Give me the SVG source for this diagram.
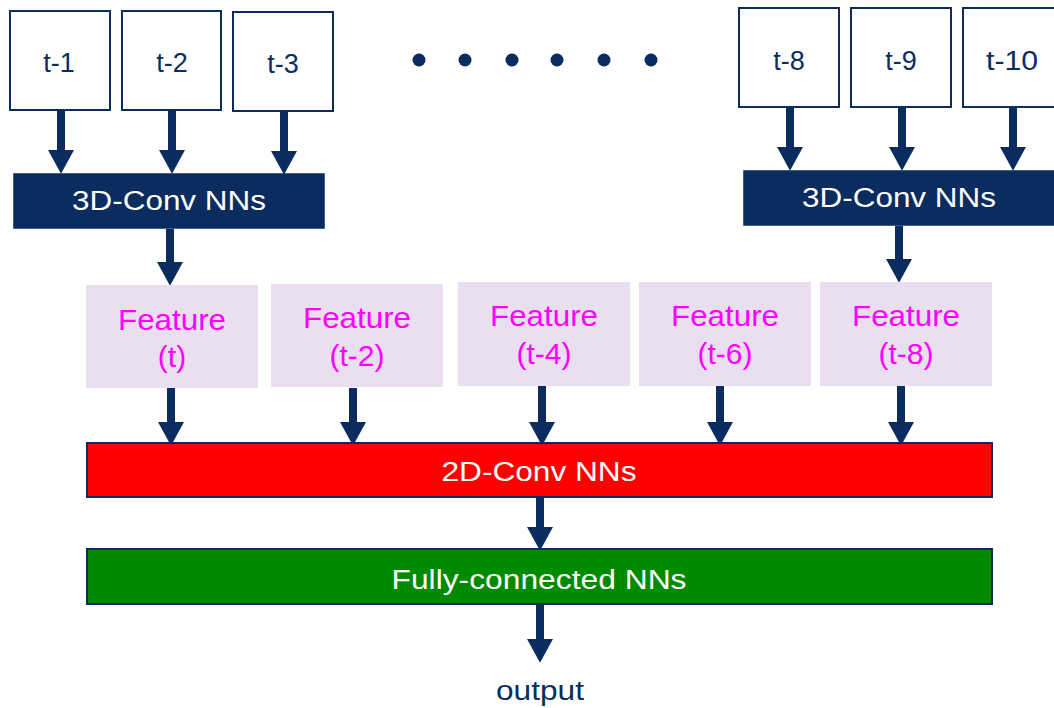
<svg xmlns="http://www.w3.org/2000/svg" width="1054" height="708" viewBox="0 0 1054 708">
<style>
.frame{fill:#ffffff;stroke:#0A2C5E;stroke-width:2}
.tl{font-family:"Liberation Sans",Arial,sans-serif;font-size:27px;fill:#0A2C5E;text-anchor:middle}
.conv3{fill:#0A2C5E;stroke:#0A2C5E;stroke-width:1.5}
.wt{font-family:"Liberation Sans",Arial,sans-serif;font-size:27px;fill:#ffffff;text-anchor:middle}
.feat{fill:#EADFF0}
.ft{font-family:"Liberation Sans",Arial,sans-serif;font-size:30px;fill:#FF00FF;text-anchor:middle}
.conv2{fill:#FF0000;stroke:#0A2C5E;stroke-width:2}
.fc{fill:#008A00;stroke:#0A2C5E;stroke-width:2}
.arr{stroke:#0A2C5E;stroke-width:8;fill:none;marker-end:url(#ah)}
.dot{fill:#0A2C5E}
</style>
<defs>
<marker id="ah" markerUnits="userSpaceOnUse" markerWidth="24" markerHeight="26" viewBox="0 -12 22 24" refX="0" refY="0" orient="auto">
<path d="M0,-12 L22,0 L0,12 z" fill="#0A2C5E"/>
</marker>
</defs>
<rect width="1054" height="708" fill="#ffffff"/>

<g id="connectors">
<line class="arr" x1="61" y1="110" x2="61" y2="150"/>
<line class="arr" x1="172" y1="110" x2="172" y2="150"/>
<line class="arr" x1="284" y1="112" x2="284" y2="151"/>
<line class="arr" x1="790" y1="108" x2="790" y2="147"/>
<line class="arr" x1="902" y1="108" x2="902" y2="147"/>
<line class="arr" x1="1013" y1="108" x2="1013" y2="147"/>
<line class="arr" x1="170" y1="229" x2="170" y2="262"/>
<line class="arr" x1="899" y1="226" x2="899" y2="259"/>
<line class="arr" x1="171" y1="388" x2="171" y2="422"/>
<line class="arr" x1="353" y1="388" x2="353" y2="422"/>
<line class="arr" x1="542" y1="386" x2="542" y2="422"/>
<line class="arr" x1="720" y1="386" x2="720" y2="422"/>
<line class="arr" x1="901" y1="386" x2="901" y2="422"/>
<line class="arr" x1="540" y1="497" x2="540" y2="527"/>
<line class="arr" x1="540" y1="604" x2="540" y2="639"/>
</g>

<g id="t1"><rect class="frame" x="10" y="11" width="100" height="99"/><text class="tl" x="59" y="72">t-1</text></g>
<g id="t2"><rect class="frame" x="122" y="11" width="99" height="99"/><text class="tl" x="172" y="72">t-2</text></g>
<g id="t3"><rect class="frame" x="233" y="12" width="100" height="99"/><text class="tl" x="283" y="73">t-3</text></g>
<g id="t8"><rect class="frame" x="739" y="8" width="100" height="99"/><text class="tl" x="789" y="70">t-8</text></g>
<g id="t9"><rect class="frame" x="851" y="8" width="100" height="99"/><text class="tl" x="901" y="70">t-9</text></g>
<g id="t10"><rect class="frame" x="963" y="8" width="100" height="99"/><text class="tl" x="1012" y="70" textLength="52" lengthAdjust="spacingAndGlyphs">t-10</text></g>

<g id="dots">
<circle class="dot" cx="419" cy="60" r="6.5"/>
<circle class="dot" cx="465" cy="60" r="6.5"/>
<circle class="dot" cx="512" cy="60" r="6.5"/>
<circle class="dot" cx="557" cy="60" r="6.5"/>
<circle class="dot" cx="604" cy="60" r="6.5"/>
<circle class="dot" cx="651" cy="60" r="6.5"/>
</g>

<g id="conv3d-left"><rect class="conv3" x="14" y="174" width="310" height="54"/><text class="wt" x="169" y="210" textLength="194" lengthAdjust="spacingAndGlyphs">3D-Conv NNs</text></g>
<g id="conv3d-right"><rect class="conv3" x="744" y="171" width="312" height="54"/><text class="wt" x="899" y="207" textLength="194" lengthAdjust="spacingAndGlyphs">3D-Conv NNs</text></g>

<g id="feat-t"><rect class="feat" x="86" y="285" width="172" height="103"/><text class="ft" x="172" y="330" textLength="108" lengthAdjust="spacingAndGlyphs">Feature</text><text class="ft" x="172" y="367">(t)</text></g>
<g id="feat-t2"><rect class="feat" x="271" y="284" width="172" height="103"/><text class="ft" x="357" y="328" textLength="108" lengthAdjust="spacingAndGlyphs">Feature</text><text class="ft" x="357" y="366">(t-2)</text></g>
<g id="feat-t4"><rect class="feat" x="458" y="282" width="172" height="104"/><text class="ft" x="544" y="326" textLength="108" lengthAdjust="spacingAndGlyphs">Feature</text><text class="ft" x="544" y="364">(t-4)</text></g>
<g id="feat-t6"><rect class="feat" x="639" y="282" width="172" height="104"/><text class="ft" x="725" y="326" textLength="108" lengthAdjust="spacingAndGlyphs">Feature</text><text class="ft" x="725" y="364">(t-6)</text></g>
<g id="feat-t8"><rect class="feat" x="820" y="282" width="172" height="104"/><text class="ft" x="906" y="326" textLength="108" lengthAdjust="spacingAndGlyphs">Feature</text><text class="ft" x="906" y="364">(t-8)</text></g>

<g id="conv2d"><rect class="conv2" x="87" y="443" width="905" height="54"/><text class="wt" x="539" y="481" font-size="28" textLength="195" lengthAdjust="spacingAndGlyphs">2D-Conv NNs</text></g>
<g id="fc"><rect class="fc" x="87" y="549" width="905" height="55"/><text class="wt" x="539" y="589" font-size="28" textLength="295" lengthAdjust="spacingAndGlyphs">Fully-connected NNs</text></g>
<g id="output"><text class="tl" x="540" y="700" font-size="28" textLength="88" lengthAdjust="spacingAndGlyphs">output</text></g>
</svg>
